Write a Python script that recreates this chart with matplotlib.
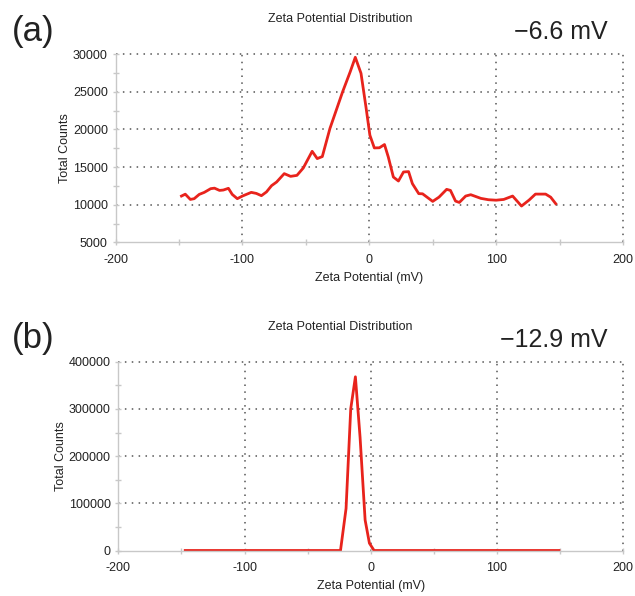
import matplotlib
matplotlib.use("Agg")
from matplotlib import pyplot as plt
from matplotlib.ticker import MultipleLocator

plt.rcParams["font.family"] = ["Liberation Sans", "DejaVu Sans"]

# (a) sample
zeta_a = [-148, -145, -141, -138, -134, -130, -125, -122, -118, -115, -111,
          -108, -104, -100, -93, -89, -85, -81, -77, -73, -67, -62, -57, -52,
          -45, -41, -37, -31, -26, -21, -15, -11, -6.5, -2.6, 0.5, 4, 8, 12,
          15, 19, 23, 27, 31, 34, 39, 42, 50, 55, 61, 64, 68, 71, 76, 80, 88,
          94, 100, 106, 113, 120, 126, 131, 139, 143, 147]
counts_a = [11150, 11400, 10700, 10800, 11370, 11640, 12130, 12200, 11900,
            11950, 12180, 11370, 10800, 11150, 11640, 11500, 11200, 11700,
            12530, 13020, 14130, 13770, 13900, 14880, 17100, 16130, 16400,
            20130, 22570, 25010, 27680, 29600, 27470, 23000, 19240, 17550,
            17570, 18000, 16350, 13680, 13150, 14350, 14400, 12800, 11470,
            11450, 10440, 11010, 12040, 11900, 10480, 10300, 11150, 11330,
            10840, 10660, 10600, 10700, 11150, 9820, 10620, 11410, 11410,
            11000, 10130]

# (b) sample
zeta_b = [-147, -24, -19.6, -15.9, -12.2, -8.5, -4.5, -1.1, 2.6, 149]
counts_b = [0, 0, 89000, 300000, 368000, 240000, 64600, 15500, 0, 0]

panels = [
    ("(a)", "\u22126.6 mV", zeta_a, counts_a, (5000, 30000), 5000),
    ("(b)", "\u221212.9 mV", zeta_b, counts_b, (0, 400000), 100000),
]
boxes = [(115.5, 54.3, 623, 242.3), (118.3, 361.7, 623.3, 550.5)]

W, H = 635, 596
fig = plt.figure(figsize=(W / 100, H / 100), dpi=100)
ink = "#222222"

for (tag, peak, xs, ys, ylim, ystep), (l, t, r, b) in zip(panels, boxes):
    ax = fig.add_axes([l / W, 1 - b / H, (r - l) / W, (b - t) / H])
    ax.plot(xs, ys, color="#e8231c", lw=2, solid_joinstyle="round")
    ax.set_xlim(-200, 200)
    ax.set_ylim(*ylim)
    ax.xaxis.set_minor_locator(MultipleLocator(50))
    ax.yaxis.set_minor_locator(MultipleLocator(ystep / 2))
    ax.set_xticks([-200, -100, 0, 100, 200])
    ax.set_xticklabels(["-200", "-100", "0", "100", "200"])
    yticks = list(range(ylim[0], ylim[1] + 1, ystep))
    ax.set_yticks(yticks)
    ax.set_yticklabels([str(v) for v in yticks])
    for s in ("top", "right"):
        ax.spines[s].set_visible(False)
    for s in ("left", "bottom"):
        ax.spines[s].set_color("#c8c8c8")
        ax.spines[s].set_linewidth(1)
    ax.tick_params(which="both", direction="inout", color="#c8c8c8",
                   labelsize=9, labelcolor=ink)
    ax.tick_params(which="major", length=5, width=1)
    ax.tick_params(which="minor", length=4, width=1)
    ax.tick_params(axis="x", pad=6)
    ax.tick_params(axis="y", pad=3)
    # dotted grid, including the top and right edges
    for xv in (-100, 0, 100, 200):
        ax.axvline(xv, color="#555555", lw=1.1, ls=(0, (1, 3.5)), zorder=0,
                   clip_on=False)
    for yv in yticks[1:]:
        ax.axhline(yv, color="#555555", lw=1.1, ls=(0, (1, 3.5)), zorder=0,
                   clip_on=False)
    ax.set_xlabel("Zeta Potential (mV)", fontsize=9, color=ink, labelpad=4)
    ax.set_ylabel("Total Counts", fontsize=9, color=ink, labelpad=1)
    fig.text(340 / W, 1 - (t - 35) / H, "Zeta Potential Distribution",
             fontsize=9, ha="center", va="center", color=ink)
    fig.text(12 / W, 1 - (t - 23) / H, tag, fontsize=25, ha="left",
             va="center", color=ink)
    fig.text(608 / W, 1 - (t - 22) / H, peak, fontsize=18, ha="right",
             va="center", color=ink)

fig.savefig("out.png", dpi=100)
